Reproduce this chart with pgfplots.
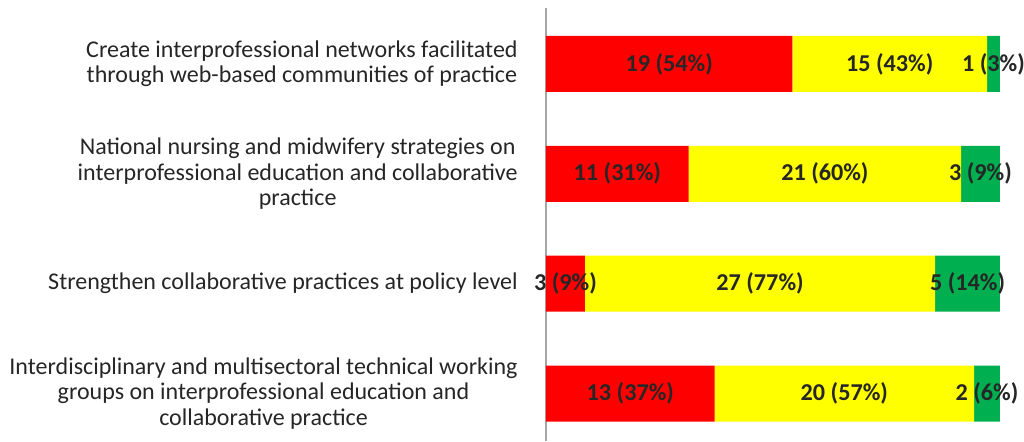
\documentclass[border=0pt]{standalone}
\usepackage{pgfplots}
\pgfplotsset{compat=1.18}
\usepackage{fontspec}
\setmainfont{Carlito}
\definecolor{cred}{HTML}{FF0000}
\definecolor{cyel}{HTML}{FFFF00}
\definecolor{cgrn}{HTML}{00B050}
\begin{document}
\begin{tikzpicture}
\useasboundingbox (0,0) rectangle (512pt,220.5pt);
\pgfplotsset{common/.style={scale only axis, width=227pt, height=216.5pt,
  at={(273pt,0pt)}, anchor=south west, xmin=0, xmax=35, ymin=-0.432, ymax=3.509}}
\begin{axis}[common, xbar stacked, bar width=28pt,
  axis x line=none, axis y line=left, y axis line style={-, draw=gray!70, line width=0.6pt},
  xtick=\empty, ytick={0,1,2,3},
  yticklabels={{Interdisciplinary and multisectoral technical working\\groups on interprofessional education and\\collaborative practice},
    {Strengthen collaborative practices at policy level},
    {National nursing and midwifery strategies on\\interprofessional education and collaborative\\practice},
    {Create interprofessional networks facilitated\\through web-based communities of practice}},
  yticklabel style={align=center, anchor=east, font=\fontsize{12.0}{12.8}\selectfont, inner sep=0pt, xshift=-14pt, text=black!85},
  major tick length=0pt, ytick style={draw=none}]
\addplot[fill=cred, draw=none] coordinates {(13,0) (3,1) (11,2) (19,3)};
\addplot[fill=cyel, draw=none] coordinates {(20,0) (27,1) (21,2) (15,3)};
\addplot[fill=cgrn, draw=none] coordinates {(2,0) (5,1) (3,2) (1,3)};
\end{axis}
\begin{axis}[common, hide axis]
\addplot[only marks, mark=*, mark size=0pt, mark options={draw=none, fill=none},
  nodes near coords, point meta=explicit symbolic, nodes near coords align=center,
  nodes near coords style={font=\bfseries\fontsize{12.1}{14}\selectfont, text=black!85, inner sep=0pt}]
  coordinates {
  (9.5,3) [19 (54\%)] (26.5,3) [15 (43\%)] (34.5,3) [1 (3\%)]
  (5.5,2) [11 (31\%)] (21.5,2) [21 (60\%)] (33.5,2) [3 (9\%)]
  (1.5,1) [3 (9\%)] (16.5,1) [27 (77\%)] (32.5,1) [5 (14\%)]
  (6.5,0) [13 (37\%)] (23,0) [20 (57\%)] (34,0) [2 (6\%)]
  };
\end{axis}
\end{tikzpicture}
\end{document}
